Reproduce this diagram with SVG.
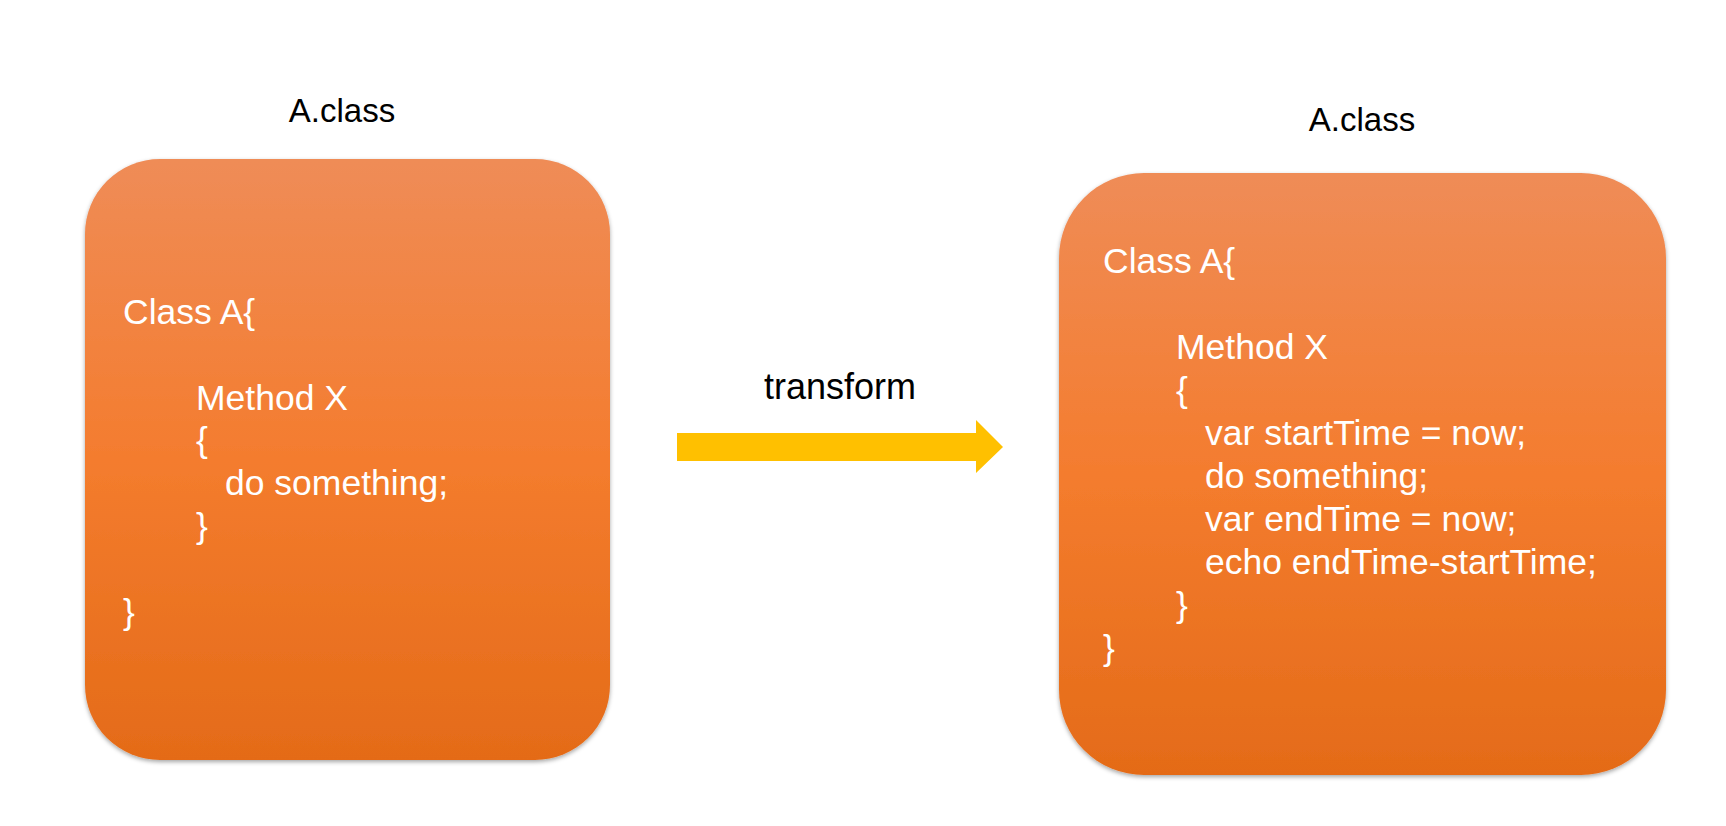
<svg xmlns="http://www.w3.org/2000/svg" width="1726" height="826" viewBox="0 0 1726 826">
  <style>
    .title { font-family: "Liberation Sans", Arial, sans-serif; font-size: 33px; fill: #000; text-anchor: middle; }
    .code { font-family: "Liberation Sans", Arial, sans-serif; font-size: 35.5px; fill: #fff; }
    .label { font-family: "Liberation Sans", Arial, sans-serif; font-size: 36px; fill: #000; text-anchor: middle; }
    .box { fill: url(#orange); filter: url(#shadow); }
  </style>
  <defs>
    <linearGradient id="orange" x1="0" y1="0" x2="0" y2="1">
      <stop offset="0" stop-color="#EF8C57"/>
      <stop offset="0.5" stop-color="#F47C2E"/>
      <stop offset="1" stop-color="#E46B18"/>
    </linearGradient>
    <filter id="shadow" x="-5%" y="-5%" width="110%" height="110%">
      <feDropShadow dx="0" dy="2" stdDeviation="2" flood-color="#000" flood-opacity="0.35"/>
    </filter>
  </defs>
  <rect width="1726" height="826" fill="#fff"/>

  <g id="left-class">
    <text class="title" x="342" y="122">A.class</text>
    <rect class="box" x="85" y="159" width="525" height="601" rx="75" ry="75"/>
    <text class="code" x="123" y="324">Class A{</text>
    <text class="code" x="196" y="410">Method X</text>
    <text class="code" x="196" y="452">{</text>
    <text class="code" x="225" y="495">do something;</text>
    <text class="code" x="196" y="538">}</text>
    <text class="code" x="123" y="624">}</text>
  </g>

  <g id="right-class">
    <text class="title" x="1362" y="131">A.class</text>
    <rect class="box" x="1059" y="173" width="607" height="602" rx="85" ry="85"/>
    <text class="code" x="1103" y="273">Class A{</text>
    <text class="code" x="1176" y="359">Method X</text>
    <text class="code" x="1176" y="402">{</text>
    <text class="code" x="1205" y="445">var startTime = now;</text>
    <text class="code" x="1205" y="488">do something;</text>
    <text class="code" x="1205" y="531">var endTime = now;</text>
    <text class="code" x="1205" y="574">echo endTime-startTime;</text>
    <text class="code" x="1176" y="617">}</text>
    <text class="code" x="1103" y="660">}</text>
  </g>

  <g id="connectors">
    <polygon points="677,433 976,433 976,420 1003,447 976,473 976,461 677,461" fill="#FFC000"/>
    <text class="label" x="840" y="399">transform</text>
  </g>
</svg>
